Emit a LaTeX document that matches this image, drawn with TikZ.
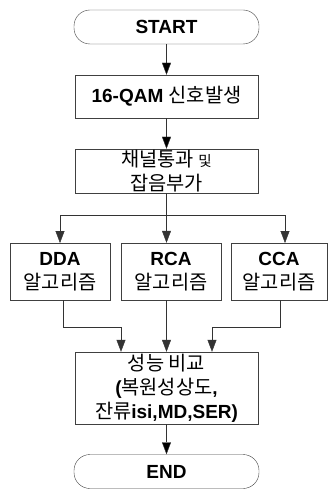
\documentclass[tikz,border=0pt]{standalone}
\usepackage{fontspec}
\setmainfont{Liberation Sans}
\newfontfamily\korfont[Scale=1.04]{Noto Sans CJK KR}
\usetikzlibrary{arrows.meta}

\newcommand{\kr}[1]{{\korfont\mdseries #1}}

\tikzset{
  term/.style={draw=black!75, rounded corners=16pt, minimum width=185pt,
    minimum height=34pt, inner sep=0pt},
  proc/.style={draw=black!75, align=center, inner sep=0pt},
  flow/.style={draw=black!80, -{Triangle[length=12pt,width=9pt]}},
  link/.style={draw=black!80}
}

\begin{document}
\begin{tikzpicture}[x=1pt,y=-1pt,font=\bfseries\fontsize{19}{24}\selectfont]
\useasboundingbox (0,0) rectangle (329,489);
\node[term] (start) at (166.5,27) {START};
\node[proc,minimum width=183pt,minimum height=43pt] (sig) at (166.5,96.5) {16-QAM \kr{신호발생}};
\node[proc,minimum width=183pt,minimum height=44pt] (chan) at (166.5,171) {\kr{채널통과 {\fontsize{14}{16}\selectfont 및}}\\\kr{잡음부가}};
\node[proc,minimum width=100pt,minimum height=57pt] (dda) at (60,271.5) {DDA\\\kr{알고리즘}};
\node[proc,minimum width=100pt,minimum height=57pt] (rca) at (171,271.5) {RCA\\\kr{알고리즘}};
\node[proc,minimum width=96pt,minimum height=57pt] (cca) at (279,271.5) {CCA\\\kr{알고리즘}};
\node[proc,minimum width=183pt,minimum height=72pt] (perf) at (166.5,388) {\kr{성능 비교}\\(\kr{복원성상도},\\\kr{잔류}isi,MD,SER)};
\node[term] (end) at (166.5,471.5) {END};
% junctions
\coordinate (split) at (166.5,215);
\coordinate (j1) at (121,327);
\coordinate (j2) at (212,327);
\path[flow] (start) edge (sig) (sig) edge (chan) (perf) edge (end);
\draw[link] (chan) -- (split);
\draw[flow] (split) -| (60,243);
\draw[flow] (split) -- (split |- rca.north);
\draw[flow] (split) -| (285,243);
\draw[flow] ([xshift=3]dda.south) |- (j1) -- (j1 |- perf.north);
\draw[flow] (split |- rca.south) -- (split |- perf.north);
\draw[flow] ([xshift=1]cca.south) |- (j2) -- (j2 |- perf.north);
\end{tikzpicture}
\end{document}
